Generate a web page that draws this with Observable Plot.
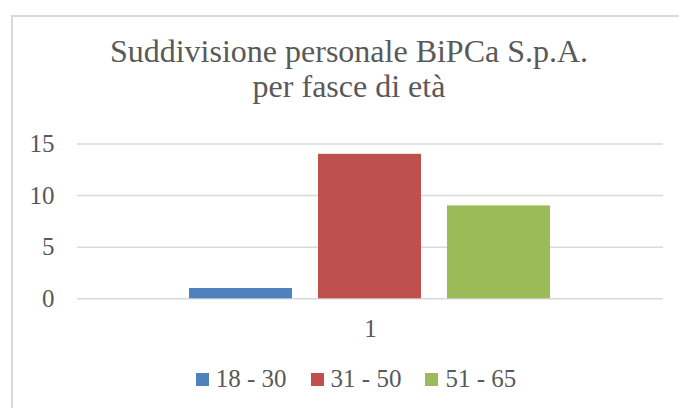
<!DOCTYPE html>
<html>
<head>
<meta charset="utf-8">
<script src="https://cdn.jsdelivr.net/npm/d3@7"></script>
<script src="https://cdn.jsdelivr.net/npm/@observablehq/plot@0.6"></script>
<style>
  html, body { margin: 0; padding: 0; background: #fff; width: 679px; height: 408px; overflow: hidden; }
  #frame { position: absolute; left: 11px; top: 15px; width: 700px; height: 420px; border-left: 2px solid #d9d9d9; border-top: 2px solid #d9d9d9; box-sizing: border-box; }
  #title { position: absolute; left: 0; width: 698px; top: 34px; text-align: center; font-family: "Liberation Serif", serif; font-size: 32px; line-height: 35px; color: #595959; }
  #chart { position: absolute; left: 0; top: 120px; }
  #legend { position: absolute; left: 0; width: 712px; top: 365px; display: flex; justify-content: center; gap: 24px; font-family: "Liberation Serif", serif; font-size: 25px; color: #595959; }
  .item { display: flex; align-items: center; gap: 7px; }
  .sw { width: 13px; height: 13px; display: inline-block; }
</style>
</head>
<body>
<div id="frame"></div>
<div id="title">Suddivisione personale BiPCa S.p.A.<br>per fasce di età</div>
<div id="chart"></div>
<div id="legend"></div>
<script>
const category = ["1"];
const series = ["18 - 30", "31 - 50", "51 - 65"];
const values = [1, 14, 9];
const colors = ["#4f81bd", "#c0504d", "#9bbb59"];
const yTicks = [0, 5, 10, 15];

const data = series.map((s, i) => ({cat: category[0], series: s, value: values[i]}));

const chart = Plot.plot({
  width: 679,
  height: 230,
  marginLeft: 77,
  marginRight: 16,
  marginTop: 23.5,
  marginBottom: 51.7,
  style: {fontFamily: "'Liberation Serif', serif", fontSize: "25px", color: "#595959", background: "transparent"},
  fx: {domain: category, padding: 0, label: null, axis: "bottom", tickSize: 0, tickPadding: 20},
  x: {domain: series, paddingInner: 0.2, paddingOuter: 0.8625, axis: null},
  y: {domain: [0, 15], ticks: yTicks, label: null, tickSize: 0, tickPadding: 23},
  color: {domain: series, range: colors},
  marks: [
    Plot.ruleY(yTicks, {stroke: "#d9d9d9", strokeWidth: 1.5, facet: false}),
    Plot.barY(data, {fx: "cat", x: "series", y: "value", fill: "series"})
  ]
});
document.getElementById("chart").appendChild(chart);

const legend = document.getElementById("legend");
series.forEach((s, i) => {
  const it = document.createElement("div");
  it.className = "item";
  const sw = document.createElement("span");
  sw.className = "sw";
  sw.style.background = colors[i];
  const t = document.createElement("span");
  t.textContent = s;
  it.appendChild(sw);
  it.appendChild(t);
  legend.appendChild(it);
});
</script>
</body>
</html>
